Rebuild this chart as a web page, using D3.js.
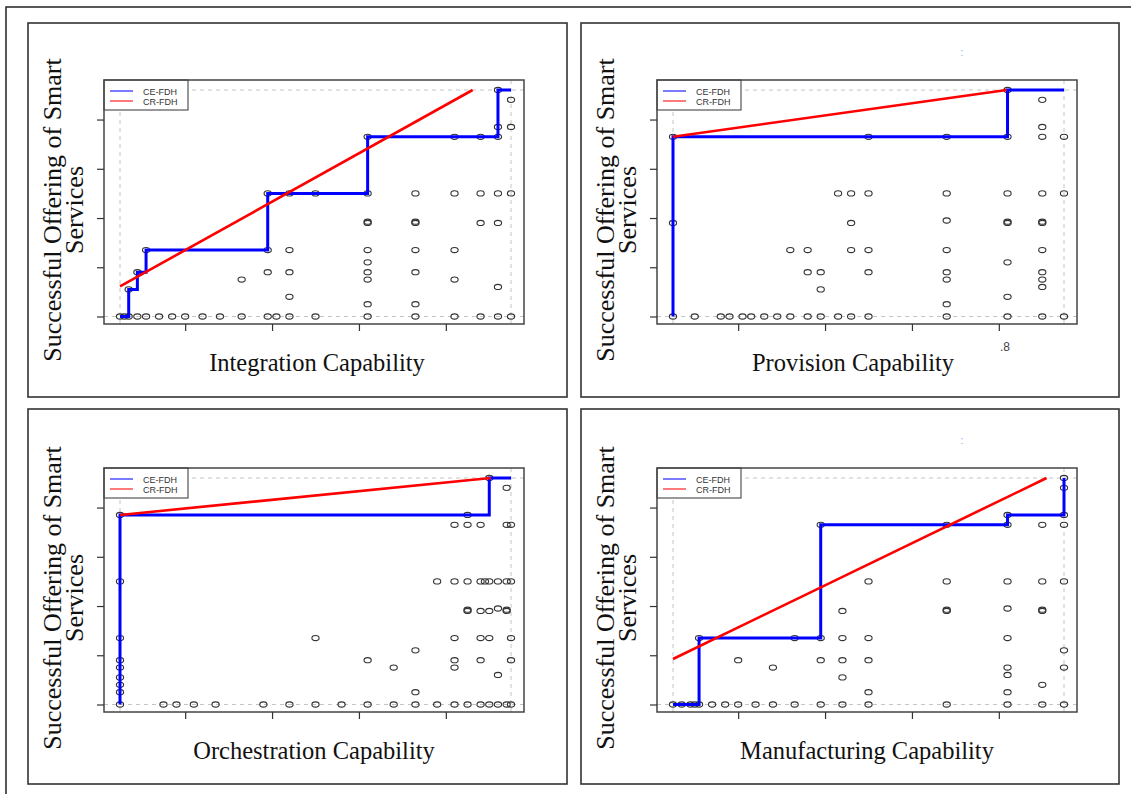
<!DOCTYPE html>
<html>
<head>
<meta charset="utf-8">
<script src="https://cdn.jsdelivr.net/npm/d3@7"></script>
<style>
  body { margin: 0; background: #fff; }
  svg { display: block; }
</style>
</head>
<body>
<div id="chart"></div>
<script>
// Axis titles and legend names
var xTitles = ["Integration Capability", "Provision Capability", "Orchestration Capability", "Manufacturing Capability"];
var yTitle = ["Successful Offering of Smart", "Services"];
var legendNames = ["CE-FDH", "CR-FDH"];

// Tick values (labels are cut off in the reference)
var xTicks = [0.2, 0.4, 0.6, 0.8];
var yTicks = [0, 0.2, 0.4, 0.6, 0.8];
var xDomain = [0.05, 0.95];
var yDomain = [0, 0.92];

// Scatter points [x, y]
var integrationPts = [
  [0.05,0],[0.06,0],[0.07,0],[0.09,0],[0.11,0],[0.14,0],[0.17,0],[0.20,0],[0.24,0],[0.28,0],[0.33,0],
  [0.39,0],[0.41,0],[0.44,0],[0.50,0],[0.62,0],[0.73,0],[0.82,0],[0.88,0],[0.92,0],[0.95,0],
  [0.07,0.11],[0.09,0.18],[0.11,0.27],[0.33,0.15],[0.39,0.18],[0.39,0.27],[0.39,0.5],
  [0.44,0.08],[0.44,0.18],[0.44,0.27],[0.44,0.5],[0.50,0.5],
  [0.62,0.05],[0.62,0.15],[0.62,0.18],[0.62,0.22],[0.62,0.27],[0.62,0.38],[0.62,0.385],[0.62,0.5],[0.62,0.73],
  [0.73,0.05],[0.73,0.18],[0.73,0.27],[0.73,0.38],[0.73,0.385],[0.73,0.5],
  [0.82,0.15],[0.82,0.27],[0.82,0.5],[0.82,0.73],
  [0.88,0.38],[0.88,0.5],[0.88,0.73],
  [0.92,0.12],[0.92,0.38],[0.92,0.5],[0.92,0.73],[0.92,0.77],[0.92,0.92],
  [0.95,0.5],[0.95,0.77],[0.95,0.88]
];
var provisionPts = [
  [0.05,0],[0.10,0],[0.16,0],[0.18,0],[0.21,0],[0.23,0],[0.26,0],[0.29,0],[0.32,0],[0.36,0],[0.39,0],
  [0.43,0],[0.46,0],[0.50,0],[0.68,0],[0.82,0],[0.90,0],[0.95,0],
  [0.05,0.38],[0.05,0.73],
  [0.32,0.27],[0.36,0.27],[0.36,0.18],[0.39,0.18],[0.39,0.11],
  [0.43,0.5],[0.46,0.5],[0.46,0.38],[0.46,0.27],[0.50,0.5],[0.50,0.27],[0.50,0.18],[0.50,0.73],
  [0.68,0.73],[0.68,0.5],[0.68,0.39],[0.68,0.27],[0.68,0.18],[0.68,0.15],[0.68,0.05],
  [0.82,0.92],[0.82,0.73],[0.82,0.5],[0.82,0.38],[0.82,0.385],[0.82,0.22],[0.82,0.08],
  [0.90,0.88],[0.90,0.77],[0.90,0.73],[0.90,0.5],[0.90,0.38],[0.90,0.385],[0.90,0.27],[0.90,0.18],[0.90,0.15],[0.90,0.12],
  [0.95,0.73],[0.95,0.5]
];
var orchestrationPts = [
  [0.05,0],[0.15,0],[0.18,0],[0.22,0],[0.27,0],[0.38,0],[0.44,0],[0.50,0],[0.56,0],[0.62,0],[0.68,0],
  [0.73,0],[0.78,0],[0.82,0],[0.85,0],[0.88,0],[0.90,0],[0.92,0],[0.94,0],[0.95,0],
  [0.05,0.77],[0.05,0.5],[0.05,0.27],[0.05,0.18],[0.05,0.15],[0.05,0.11],[0.05,0.08],[0.05,0.05],
  [0.50,0.27],[0.62,0.18],[0.68,0.15],[0.73,0.22],[0.73,0.05],[0.78,0.5],
  [0.82,0.73],[0.82,0.5],[0.82,0.27],[0.82,0.18],[0.82,0.15],
  [0.85,0.77],[0.85,0.73],[0.85,0.5],[0.85,0.385],[0.85,0.38],
  [0.88,0.73],[0.88,0.5],[0.88,0.38],[0.88,0.27],[0.88,0.18],
  [0.89,0.5],
  [0.90,0.92],[0.90,0.5],[0.90,0.38],[0.90,0.27],
  [0.92,0.5],[0.92,0.39],[0.92,0.12],
  [0.94,0.88],[0.94,0.73],[0.94,0.5],[0.94,0.385],[0.94,0.38],
  [0.95,0.73],[0.95,0.5],[0.95,0.27],[0.95,0.18]
];
var manufacturingPts = [
  [0.05,0],[0.07,0],[0.09,0],[0.10,0],[0.11,0],[0.14,0],[0.17,0],[0.20,0],[0.24,0],[0.28,0],[0.33,0],
  [0.39,0],[0.44,0],[0.50,0],[0.68,0],[0.82,0],[0.90,0],[0.95,0],
  [0.11,0.27],[0.20,0.18],[0.28,0.15],[0.33,0.27],
  [0.39,0.73],[0.39,0.27],[0.39,0.18],
  [0.44,0.38],[0.44,0.27],[0.44,0.18],[0.44,0.11],
  [0.50,0.5],[0.50,0.27],[0.50,0.18],[0.50,0.05],
  [0.68,0.73],[0.68,0.5],[0.68,0.38],[0.68,0.385],
  [0.82,0.77],[0.82,0.73],[0.82,0.5],[0.82,0.39],[0.82,0.27],[0.82,0.15],[0.82,0.12],[0.82,0.05],
  [0.90,0.73],[0.90,0.5],[0.90,0.38],[0.90,0.385],[0.90,0.08],
  [0.95,0.92],[0.95,0.88],[0.95,0.77],[0.95,0.73],[0.95,0.5],[0.95,0.22],[0.95,0.15]
];

// CR-FDH lines: [intercept, slope]
var crLines = [[0.073, 0.983], [0.718, 0.247], [0.761, 0.176], [0.142, 0.855]];

var allPts = [integrationPts, provisionPts, orchestrationPts, manufacturingPts];

function init() {
    var w = 1131, h = 794;

    var svg = d3.select("#chart").append("svg")
        .attr("width", w)
        .attr("height", h);

    svg.append("rect").attr("width", w).attr("height", h).attr("fill", "#fff");

    // outer frame (only top and left edges are in view)
    svg.append("path")
        .attr("d", "M6," + h + "L6,7L" + w + ",7")
        .attr("fill", "none")
        .attr("stroke", "#222")
        .attr("stroke-width", 1.5);

    // panel frames and plot boxes
    var frames = [[28, 23, 539, 374], [581, 23, 538, 374], [28, 409, 539, 375], [581, 409, 538, 375]];
    var boxes = [[104, 80], [657, 80], [104, 468], [657, 468]];
    var bw = 420, bh = 244;
    var titleShift = [3, -14, 0, 0];

    var x = d3.scaleLinear().domain(xDomain).range([16, 407]);
    var y = d3.scaleLinear().domain(yDomain).range([236.5, 10]);

    allPts.forEach(function(pts, i) {
        var f = frames[i];
        svg.append("rect")
            .attr("x", f[0]).attr("y", f[1])
            .attr("width", f[2]).attr("height", f[3])
            .attr("fill", "none")
            .attr("stroke", "#333")
            .attr("stroke-width", 1.6);

        var g = svg.append("g")
            .attr("transform", "translate(" + boxes[i][0] + "," + boxes[i][1] + ")");

        // dashed grey guide lines at the data limits
        xDomain.forEach(function(v) {
            g.append("line")
                .attr("x1", x(v)).attr("x2", x(v))
                .attr("y1", 0).attr("y2", bh)
                .attr("stroke", "#c4c4c4").attr("stroke-dasharray", "4,4");
        });
        yDomain.forEach(function(v) {
            g.append("line")
                .attr("x1", 0).attr("x2", bw)
                .attr("y1", y(v)).attr("y2", y(v))
                .attr("stroke", "#c4c4c4").attr("stroke-dasharray", "4,4");
        });

        // open circles
        g.selectAll("ellipse.pt")
            .data(pts)
            .enter().append("ellipse")
            .attr("class", "pt")
            .attr("cx", function(d) { return x(d[0]); })
            .attr("cy", function(d) { return y(d[1]); })
            .attr("rx", 3.6)
            .attr("ry", 2.6)
            .attr("fill", "none")
            .attr("stroke", "#333")
            .attr("stroke-width", 1.1);

        // CE-FDH: ceiling step through the running maximum
        var sorted = pts.slice().sort(function(a, b) { return a[0] - b[0] || b[1] - a[1]; });
        var env = [[xDomain[0], d3.min(pts, function(d) { return d[1]; })]];
        var cur = env[0][1];
        sorted.forEach(function(p) {
            if (p[1] > cur) { cur = p[1]; env.push([p[0], p[1]]); }
        });
        env.push([xDomain[1], cur]);

        g.append("path")
            .datum(env)
            .attr("d", d3.line()
                .x(function(d) { return x(d[0]); })
                .y(function(d) { return y(d[1]); })
                .curve(d3.curveStepAfter))
            .attr("fill", "none")
            .attr("stroke", "#0000ff")
            .attr("stroke-width", 3);

        // CR-FDH straight line, stopped at the top limit
        var a = crLines[i][0], b = crLines[i][1];
        var xEnd = Math.min(xDomain[1], (yDomain[1] - a) / b);
        g.append("line")
            .attr("x1", x(xDomain[0])).attr("y1", y(a + b * xDomain[0]))
            .attr("x2", x(xEnd)).attr("y2", y(a + b * xEnd))
            .attr("stroke", "#ff0000")
            .attr("stroke-width", 2.6);

        // legend
        var lg = g.append("g");
        lg.append("rect")
            .attr("width", 84).attr("height", 30)
            .attr("fill", "#fff").attr("stroke", "#333").attr("stroke-width", 1);
        legendNames.forEach(function(name, k) {
            lg.append("line")
                .attr("x1", 6).attr("x2", 29)
                .attr("y1", 11 + k * 10).attr("y2", 11 + k * 10)
                .attr("stroke", k === 0 ? "#3333ff" : "#ff3333")
                .attr("stroke-width", 1.3);
            lg.append("text")
                .attr("x", 39).attr("y", 14.5 + k * 10)
                .attr("font-family", "Liberation Sans, Arial, sans-serif")
                .attr("font-size", 9)
                .attr("fill", "#333")
                .text(name);
        });

        // plot box
        g.append("rect")
            .attr("width", bw).attr("height", bh)
            .attr("fill", "none")
            .attr("stroke", "#444")
            .attr("stroke-width", 1.5);

        // axes with ticks only
        var xAxis = g.append("g")
            .attr("transform", "translate(0," + bh + ")")
            .call(d3.axisBottom(x).tickValues(xTicks).tickSize(7).tickFormat(""));
        var yAxis = g.append("g")
            .call(d3.axisLeft(y).tickValues(yTicks).tickSize(7).tickFormat(""));
        [xAxis, yAxis].forEach(function(ax) {
            ax.select(".domain").remove();
            ax.selectAll("line").attr("stroke", "#333").attr("stroke-width", 1.2);
        });

        // x title
        g.append("text")
            .attr("x", bw / 2 + titleShift[i])
            .attr("y", bh + 47)
            .attr("text-anchor", "middle")
            .attr("font-family", "Liberation Serif, Times New Roman, serif")
            .attr("font-size", 24.5)
            .attr("fill", "#111")
            .text(xTitles[i]);

        // y title, two lines
        yTitle.forEach(function(line, k) {
            svg.append("text")
                .attr("transform", "translate(" + (f[0] + 33 + k * 22) + "," + (boxes[i][1] + bh / 2 + 8) + ") rotate(-90)")
                .attr("text-anchor", "middle")
                .attr("font-family", "Liberation Serif, Times New Roman, serif")
                .attr("font-size", 26)
                .attr("fill", "#111")
                .text(line);
        });
    });

    // stray label left over from the cropped tick labels
    svg.append("text")
        .attr("x", 1005).attr("y", 351)
        .attr("text-anchor", "middle")
        .attr("font-family", "Liberation Sans, Arial, sans-serif")
        .attr("font-size", 12)
        .attr("fill", "#444")
        .text(".8");

    // tiny blue marks
    [52, 440].forEach(function(yy) {
        svg.append("text")
            .attr("x", 962).attr("y", yy + 4)
            .attr("text-anchor", "middle")
            .attr("font-family", "Liberation Sans, Arial, sans-serif")
            .attr("font-size", 10)
            .attr("fill", "#6fa8f0")
            .text(":");
    });
}

window.onload = init;
</script>
</body>
</html>
